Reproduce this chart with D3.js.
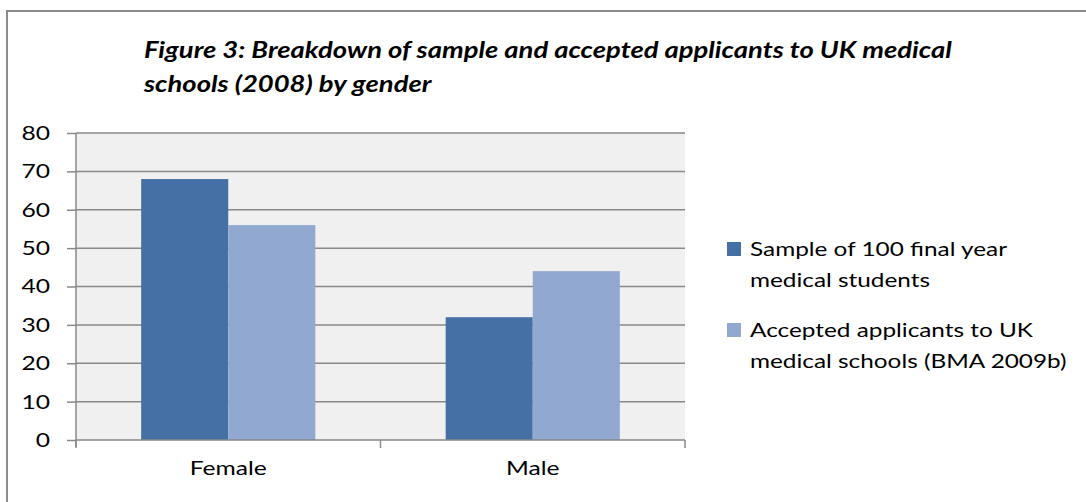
<!DOCTYPE html>
<html lang="en">
<head>
    <meta charset="UTF-8">
    <title>Figure 3</title>
    <script src="https://d3js.org/d3.v7.min.js"></script>
    <style>
        body { margin: 0; background: #fff; }
        svg { display: block; font-family: Lato, "Open Sans", sans-serif; }
        .title { font-weight: bold; font-style: italic; font-size: 22px; fill: #000; }
        .axis text { font-size: 20px; fill: #000; font-family: Lato, sans-serif; }
        .legend text { font-size: 20px; fill: #000; }
    </style>
</head>
<body>
    <svg></svg>
    <script>
        // data
        const categories = ["Female", "Male"];
        const seriesNames = [
            ["Sample of 100 final year", "medical students"],
            ["Accepted applicants to UK", "medical schools (BMA 2009b)"]
        ];
        const sampleValues = [68, 32];
        const acceptedValues = [56, 44];
        const yTicks = [0, 10, 20, 30, 40, 50, 60, 70, 80];
        const titleLines = [
            "Figure 3: Breakdown of sample and accepted applicants to UK medical",
            "schools (2008) by gender"
        ];

        const colors = ["#4570a5", "#91a9d0"];
        const width = 1086, height = 502;
        const plot = { left: 76, right: 685, top: 133, bottom: 440 };
        // the source picture is stretched sideways, so text is widened to match
        const stretchX = 1.23;

        function stretch(sel, k) {
            sel.each(function () {
                const w = this.getComputedTextLength();
                d3.select(this)
                    .attr("textLength", w * k)
                    .attr("lengthAdjust", "spacingAndGlyphs");
            });
        }

        const svg = d3.select("svg")
            .attr("width", width)
            .attr("height", height);

        // outer frame (only top and left are visible in the picture)
        svg.append("rect")
            .attr("x", 7).attr("y", 11)
            .attr("width", width).attr("height", height)
            .attr("fill", "none")
            .attr("stroke", "#8c8c8c")
            .attr("stroke-width", 2);

        const titles = svg.selectAll(".title")
            .data(titleLines)
            .enter().append("text")
            .attr("class", "title")
            .attr("x", 144)
            .attr("y", (d, i) => 58 + i * 34)
            .text(d => d);
        stretch(titles, 1.245);

        const x0 = d3.scaleBand()
            .domain(categories)
            .range([plot.left, plot.right])
            .paddingInner(0.428)
            .paddingOuter(0.214);

        const x1 = d3.scaleBand()
            .domain([0, 1])
            .range([0, x0.bandwidth()]);

        const y = d3.scaleLinear()
            .domain([0, 80])
            .range([plot.bottom, plot.top]);

        // plot background
        svg.append("rect")
            .attr("x", plot.left).attr("y", plot.top)
            .attr("width", plot.right - plot.left)
            .attr("height", plot.bottom - plot.top)
            .attr("fill", "#f0f0f0");

        // gridlines
        svg.append("g")
            .selectAll("line")
            .data(yTicks.filter(d => d > 0))
            .enter().append("line")
            .attr("x1", plot.left).attr("x2", plot.right)
            .attr("y1", d => y(d)).attr("y2", d => y(d))
            .attr("stroke", "#898989")
            .attr("stroke-width", 1.5);

        // bars
        const rows = categories.map((c, i) => ({ cat: c, vals: [sampleValues[i], acceptedValues[i]] }));
        svg.append("g")
            .selectAll("g")
            .data(rows)
            .enter().append("g")
            .attr("transform", d => `translate(${x0(d.cat)},0)`)
            .selectAll("rect")
            .data(d => d.vals)
            .enter().append("rect")
            .attr("x", (d, i) => x1(i))
            .attr("width", x1.bandwidth())
            .attr("y", d => y(d))
            .attr("height", d => y(0) - y(d))
            .attr("fill", (d, i) => colors[i]);

        // y axis
        const yAxis = svg.append("g")
            .attr("class", "axis")
            .attr("transform", `translate(${plot.left},0)`)
            .call(d3.axisLeft(y).tickValues(yTicks).tickSize(9).tickPadding(17));
        yAxis.select(".domain").attr("stroke", "#898989").attr("stroke-width", 1.5)
            .attr("d", `M0,${plot.top}V${plot.bottom + 7}`);
        yAxis.selectAll(".tick line").attr("stroke", "#898989").attr("stroke-width", 1.5);
        stretch(yAxis.selectAll(".tick text"), stretchX);

        // x axis
        const xAxis = svg.append("g")
            .attr("class", "axis")
            .attr("transform", `translate(0,${plot.bottom})`)
            .call(d3.axisBottom(x0).tickSize(0).tickPadding(21));
        xAxis.select(".domain").attr("stroke", "#898989").attr("stroke-width", 1.5)
            .attr("d", `M${plot.left},0H${plot.right}`);
        xAxis.selectAll(".tick text").attr("dy", "0.71em");
        stretch(xAxis.selectAll(".tick text"), stretchX);
        // category boundary ticks
        const bounds = [plot.left, (plot.left + plot.right) / 2, plot.right];
        xAxis.selectAll(".bound")
            .data(bounds)
            .enter().append("line")
            .attr("x1", d => d).attr("x2", d => d)
            .attr("y1", 0).attr("y2", 8)
            .attr("stroke", "#898989")
            .attr("stroke-width", 1.5);

        // legend
        const legend = svg.append("g")
            .attr("class", "legend")
            .selectAll("g")
            .data(seriesNames)
            .enter().append("g")
            .attr("transform", (d, i) => `translate(727,${242 + i * 81})`);

        legend.append("rect")
            .attr("width", 14).attr("height", 14)
            .attr("fill", (d, i) => colors[i]);

        const legendLines = legend.append("text")
            .selectAll("tspan")
            .data(d => d)
            .enter().append("tspan")
            .attr("x", 23)
            .attr("y", (d, i) => 14 + i * 31)
            .text(d => d);
        stretch(legendLines, 1.217);
    </script>
</body>
</html>
